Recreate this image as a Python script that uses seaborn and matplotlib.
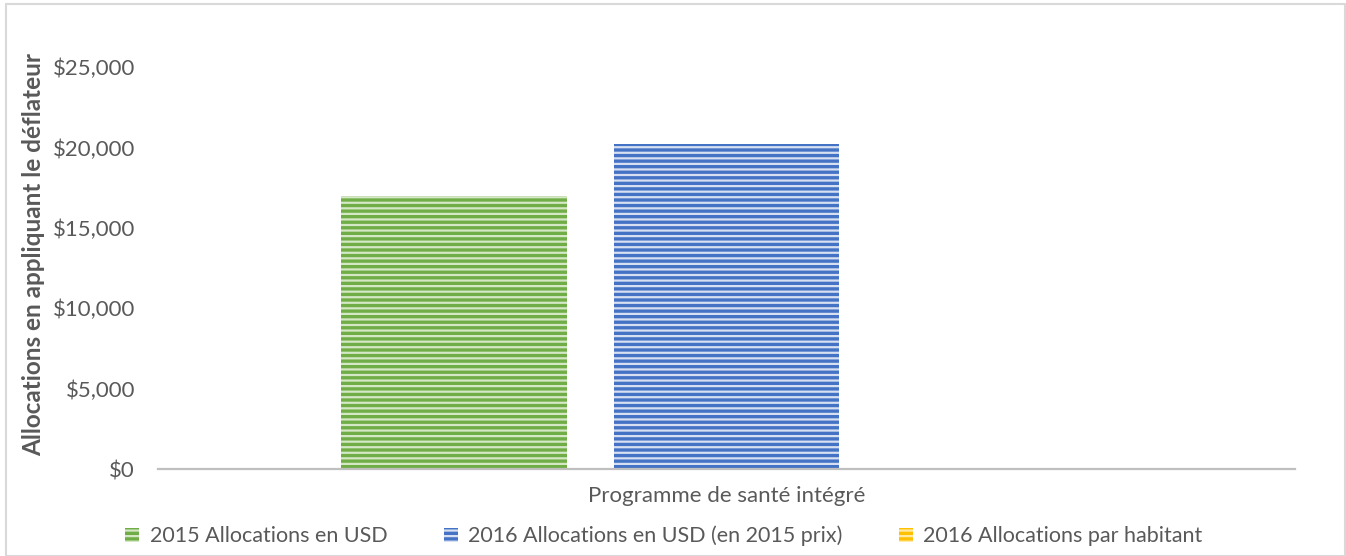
import matplotlib
matplotlib.use("Agg")
import matplotlib.pyplot as plt
import seaborn as sns
import pandas as pd
from matplotlib.patches import Patch, Rectangle
from matplotlib.ticker import FuncFormatter

categories = ["Programme de santé intégré"]
series = ["2015 Allocations en USD",
          "2016 Allocations en USD (en 2015 prix)",
          "2016 Allocations par habitant"]
values = [16950, 20220, 0]
colors = ["#70AD47", "#4472C4", "#FFC000"]
stripe_colors = ["#d4e8c6", "#d6e0f2", "#ffeaa6"]

df = pd.DataFrame({"cat": categories * len(series), "series": series, "value": values})

sns.set_theme(style="white")
plt.rcParams["font.family"] = ["Lato", "DejaVu Sans"]
plt.rcParams["hatch.linewidth"] = 1.6
text_color = "#595959"

W, H = 1346, 556
fig = plt.figure(figsize=(W / 100, H / 100), dpi=100)
ax = fig.add_axes([158 / W, 1 - 469 / H, (1295 - 158) / W, (469 - 67) / H])

sns.barplot(data=df, x="cat", y="value", hue="series", hue_order=series,
            palette=colors, width=0.719, gap=0.174, ax=ax, legend=False,
            saturation=1)

for patch, sc in zip(ax.patches, stripe_colors):
    patch.set_hatch("---")
    patch.set_edgecolor(sc)
    patch.set_linewidth(0)

ax.set_xlim(-0.5, 0.5)
ax.set_ylim(0, 25000)
ax.set_yticks([0, 5000, 10000, 15000, 20000, 25000])
ax.yaxis.set_major_formatter(FuncFormatter(lambda v, p: f"${v:,.0f}"))
ax.tick_params(axis="both", length=0, labelsize=16, colors=text_color)
ax.tick_params(axis="y", pad=16.5)
ax.tick_params(axis="x", pad=12)
ax.set_xlabel("")
ax.set_ylabel("")
for s in ["top", "right", "left"]:
    ax.spines[s].set_visible(False)
ax.spines["bottom"].set_color("#bfbfbf")
ax.spines["bottom"].set_linewidth(1.6)
ax.grid(False)

fig.text(34 / W, 1 - 255 / H, "Allocations en appliquant le déflateur",
         rotation=90, ha="center", va="center", fontsize=17.5,
         fontweight="bold", color=text_color)

handles = [Patch(facecolor=c, edgecolor=sc, hatch="---", linewidth=0)
           for c, sc in zip(colors, stripe_colors)]
fig.legend(handles, series, loc="center", bbox_to_anchor=(664 / W, 1 - 536 / H),
           ncol=3, frameon=False, fontsize=15.5, labelcolor=text_color,
           handlelength=0.65, handleheight=0.65, handletextpad=0.5,
           columnspacing=2.6)

fig.add_artist(Rectangle((6 / W, 0), 1 - 7 / W, 1 - 4 / H, transform=fig.transFigure,
                         fill=False, edgecolor="#d9d9d9", linewidth=1.5))

fig.savefig("out.png", dpi=100)
